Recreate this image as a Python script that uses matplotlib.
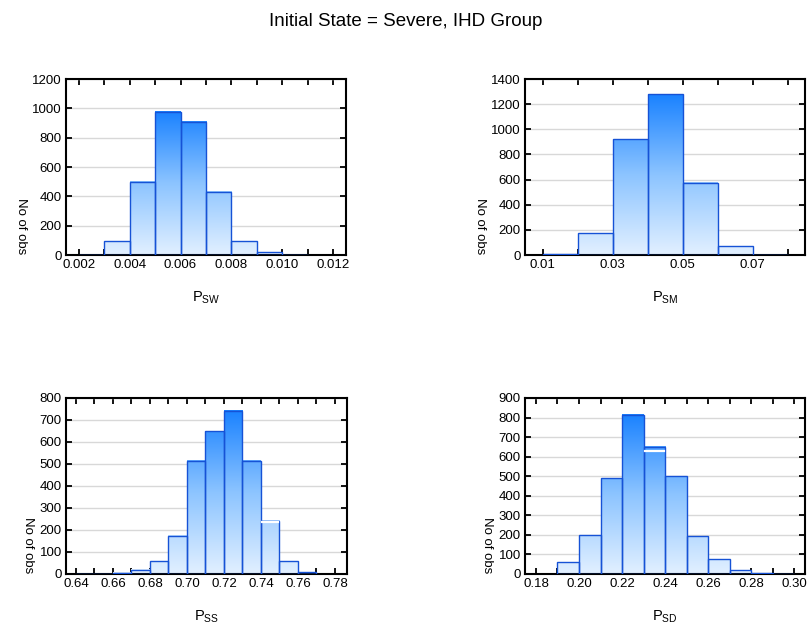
import numpy as np
import matplotlib
matplotlib.use("Agg")
import matplotlib.pyplot as plt
from matplotlib.colors import LinearSegmentedColormap

plt.rcParams['font.family'] = ['Liberation Sans', 'DejaVu Sans']
plt.rcParams['mathtext.fontset'] = 'custom'
plt.rcParams['mathtext.rm'] = 'Liberation Sans'

# ---------------------------------------------------------
# data (bin left edges, counts)
# ---------------------------------------------------------
sw_edges = [0.002, 0.003, 0.004, 0.005, 0.006, 0.007, 0.008, 0.009, 0.010]
sw_counts = [3, 95, 500, 975, 910, 430, 95, 18, 3]

sm_edges = [0.01, 0.02, 0.03, 0.04, 0.05, 0.06, 0.07]
sm_counts = [4, 175, 920, 1280, 575, 68, 3]

ss_edges = [0.64, 0.65, 0.66, 0.67, 0.68, 0.69, 0.70, 0.71, 0.72, 0.73, 0.74, 0.75, 0.76]
ss_counts = [1, 2, 5, 20, 58, 175, 515, 650, 742, 515, 242, 57, 8]

sd_edges = [0.19, 0.20, 0.21, 0.22, 0.23, 0.24, 0.25, 0.26, 0.27, 0.28, 0.29]
sd_counts = [60, 198, 490, 815, 650, 500, 192, 75, 18, 3, 1]

# white overdraw lines seen inside two bars (bin left edge, height)
ss_marks = [(0.74, 235)]
sd_marks = [(0.23, 628)]

panels = [
    (sw_edges, sw_counts, [], 0.001, (0.0015, 0.0125),
     np.arange(0.002, 0.0121, 0.001), ['0.002', '', '0.004', '', '0.006', '', '0.008', '', '0.010', '', '0.012'],
     1200, 200, r'P$_{\mathrm{SW}}$'),
    (sm_edges, sm_counts, [], 0.01, (0.005, 0.085),
     np.arange(0.01, 0.081, 0.01), ['0.01', '', '0.03', '', '0.05', '', '0.07', ''],
     1400, 200, r'P$_{\mathrm{SM}}$'),
    (ss_edges, ss_counts, ss_marks, 0.01, (0.6346, 0.7865),
     np.arange(0.64, 0.781, 0.01), ['0.64', '', '0.66', '', '0.68', '', '0.70', '', '0.72', '', '0.74', '', '0.76', '', '0.78'],
     800, 100, r'P$_{\mathrm{SS}}$'),
    (sd_edges, sd_counts, sd_marks, 0.01, (0.1749, 0.305),
     np.arange(0.18, 0.301, 0.01), ['0.18', '', '0.20', '', '0.22', '', '0.24', '', '0.26', '', '0.28', '', '0.30'],
     900, 100, r'P$_{\mathrm{SD}}$'),
]

# axes rectangles in pixels: left, top, right, bottom
W, H = 811, 633
boxes = [(66, 79, 346, 255), (525, 79, 805, 255),
         (66, 398, 347, 574), (525, 398, 805, 574)]

cmap = LinearSegmentedColormap.from_list('bars', ['#e2f0ff', '#8cc4ff', '#1a82ff'])

fig = plt.figure(figsize=(W / 100, H / 100), dpi=100)
fig.text(0.5, 1 - 21 / H, 'Initial State = Severe, IHD Group', ha='center', va='center', fontsize=13.5)

for (edges, counts, marks, width, xlim, xticks, xtl, ymax, ystep, label), (l, t, r, b) in zip(panels, boxes):
    ax = fig.add_axes([l / W, 1 - b / H, (r - l) / W, (b - t) / H])

    top = max(counts)
    grad = np.linspace(0, 1, 256).reshape(-1, 1)
    for x0, c in zip(edges, counts):
        # gradient fill relative to the tallest bar
        ax.imshow(grad[:max(2, int(256 * c / top))], cmap=cmap, vmin=0, vmax=1,
                  extent=(x0, x0 + width, 0, c), origin='lower', aspect='auto', zorder=2)
        ax.bar(x0, c, width=width, align='edge', facecolor='none',
               edgecolor='#1652d6', linewidth=1.0, zorder=3)
    for x0, h in marks:
        ax.plot([x0 + 0.06 * width, x0 + 0.94 * width], [h, h], color='white', lw=1.6, zorder=4)

    ax.set_xlim(*xlim)
    ax.set_ylim(0, ymax)
    ax.set_xticks(xticks)
    ax.set_xticklabels(xtl)
    ax.set_yticks(np.arange(0, ymax + 1, ystep))
    ax.yaxis.grid(True, color='#d8d8d8', linewidth=1.0, zorder=0)
    ax.set_axisbelow(True)
    ax.tick_params(direction='in', top=True, right=True, length=4, width=1.3,
                   labelsize=9.5, pad=3, colors='black')
    for s in ax.spines.values():
        s.set_linewidth(1.5)
    ax.set_ylabel('No of obs', rotation=270, fontsize=9.5, labelpad=4, va='top', y=0.165)
    ax.set_xlabel(label, fontsize=10.5, labelpad=13)

fig.savefig('out.png', dpi=100)
